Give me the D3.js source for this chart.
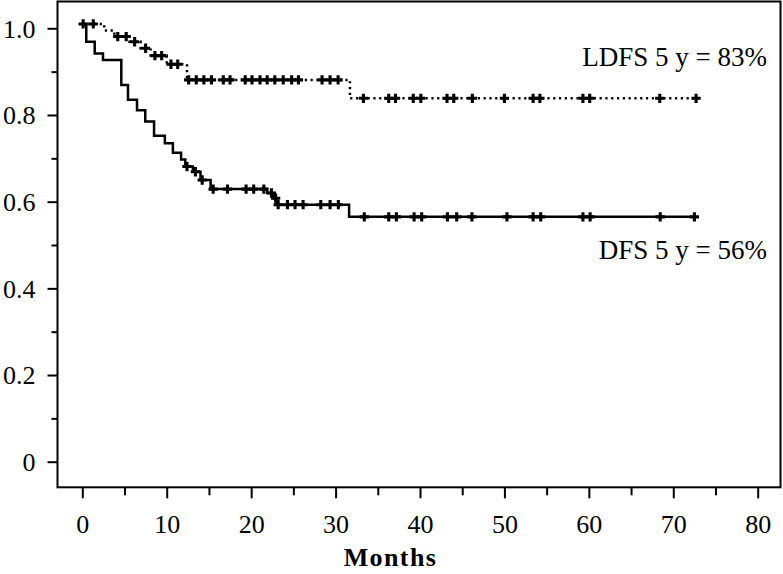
<!DOCTYPE html>
<html>
<head>
<meta charset="utf-8">
<script src="https://cdn.jsdelivr.net/npm/d3@7"></script>
<style>
  html, body { margin: 0; padding: 0; background: #fff; }
  svg { display: block; }
  text { font-family: "Liberation Serif", "Times New Roman", serif; fill: #000; }
</style>
</head>
<body>
<svg id="chart" width="783" height="574"></svg>
<script>
// ---- data ----
const xTicks = [0, 10, 20, 30, 40, 50, 60, 70, 80];
const xMinorTicks = [5, 15, 25, 35, 45, 55, 65, 75];
const yTicks = [0, 0.2, 0.4, 0.6, 0.8, 1.0];
const yTickLabels = ["0", "0.2", "0.4", "0.6", "0.8", "1.0"];
const yMinorTicks = [0.1, 0.3, 0.5, 0.7, 0.9];

// DFS (solid): step times and survival after each step
const dfsTimes = [0, 0.47, 1.47, 2.45, 4.62, 5.41, 6.48, 7.46, 8.5, 9.78, 10.73, 11.7, 12.2, 13.1, 14.0, 15.2, 21.9, 22.6, 23.0, 31.6];
const dfsSurv  = [1.01, 0.969, 0.942, 0.927, 0.869, 0.835, 0.811, 0.785, 0.752, 0.735, 0.713, 0.697, 0.681, 0.669, 0.650, 0.629, 0.620, 0.608, 0.593, 0.565];
const dfsEnd = 72.5;
const dfsCensor = [12.4, 13.4, 14.2, 15.5, 17.2, 19.4, 20.3, 21.5, 22.4, 22.9, 23.2, 24.3, 25.2, 26.15, 28.25, 29.35, 30.33,
                   33.4, 36.3, 37.2, 39.3, 40.2, 43.25, 44.35, 46.15, 50.3, 53.4, 54.3, 59.3, 60.15, 68.45, 72.5];

// LDFS (dotted)
const ldfsTimes = [0, 2.6, 3.8, 5.6, 6.9, 8.1, 10.0, 12.4, 31.7];
const ldfsSurv  = [1.01, 0.995, 0.981, 0.969, 0.954, 0.937, 0.917, 0.881, 0.8385];
const ldfsEnd = 72.7;
const ldfsCensor = [0.1, 1.3, 4.2, 5.2, 6.2, 7.5, 8.6, 9.4, 10.5, 11.3, 12.6, 13.5, 14.4, 15.3, 16.7, 17.5, 19.3, 20.1, 21.05,
                    21.9, 22.8, 23.8, 24.8, 25.6, 28.4, 29.35, 30.3, 33.3, 36.3, 37.1, 39.2, 40.1, 43.2, 44.0, 46.2, 50.0,
                    53.4, 54.2, 59.3, 60.1, 68.4, 72.7];

const labels = [
  { text: "LDFS 5 y = 83%", series: "ldfs" },
  { text: "DFS 5 y = 56%", series: "dfs" }
];
const xTitle = "Months";

// ---- layout ----
const svg = d3.select("#chart");
const box = { left: 57.5, top: 1.5, right: 780.5, bottom: 487.3 };
const x = d3.scaleLinear().domain([0, 80]).range([82.3, 757.7]);
const y = d3.scaleLinear().domain([0, 1]).range([461.7, 28.3]);

// frame
svg.append("rect")
  .attr("x", box.left).attr("y", box.top)
  .attr("width", box.right - box.left).attr("height", box.bottom - box.top)
  .attr("fill", "none").attr("stroke", "#000").attr("stroke-width", 2);

// y axis
const yAxisG = svg.append("g").attr("transform", `translate(${box.left},0)`)
  .call(d3.axisLeft(y).tickValues(yTicks).tickSize(10).tickPadding(12)
        .tickFormat((d, i) => yTickLabels[i]));
const yMinorG = svg.append("g").attr("transform", `translate(${box.left},0)`)
  .call(d3.axisLeft(y).tickValues(yMinorTicks).tickSize(6).tickFormat(""));

// x axis
const xAxisG = svg.append("g").attr("transform", `translate(0,${box.bottom})`)
  .call(d3.axisBottom(x).tickValues(xTicks).tickSize(11).tickFormat(d3.format("d")));
const xMinorG = svg.append("g").attr("transform", `translate(0,${box.bottom})`)
  .call(d3.axisBottom(x).tickValues(xMinorTicks).tickSize(8).tickFormat(""));

[yAxisG, yMinorG, xAxisG, xMinorG].forEach(g => {
  g.select(".domain").remove();
  g.selectAll(".tick line").attr("stroke", "#000").attr("stroke-width", 2);
  g.selectAll("text").attr("font-family", "Liberation Serif").attr("font-size", 26).attr("fill", "#000");
});
yAxisG.selectAll("text").attr("dy", "0.34em");
xAxisG.selectAll("text").attr("y", 45.4).attr("dy", 0);

// x title
svg.append("text")
  .attr("x", 390.5).attr("y", 566)
  .attr("text-anchor", "middle")
  .attr("font-size", 26).attr("font-weight", "bold")
  .attr("letter-spacing", 1.4)
  .text(xTitle);

// curves
function stepPoints(times, surv, end) {
  const pts = times.map((t, i) => [t, surv[i]]);
  pts.push([end, surv[surv.length - 1]]);
  return pts;
}
function survAt(times, surv, t) {
  let v = surv[0];
  for (let i = 0; i < times.length; i++) if (times[i] <= t) v = surv[i];
  return v;
}
const line = d3.line().x(d => x(d[0])).y(d => y(d[1])).curve(d3.curveStepAfter);

svg.append("path")
  .datum(stepPoints(ldfsTimes, ldfsSurv, ldfsEnd))
  .attr("d", line).attr("fill", "none").attr("stroke", "#000")
  .attr("stroke-width", 2.5).attr("stroke-dasharray", "2.2,3.6");

svg.append("path")
  .datum(stepPoints(dfsTimes, dfsSurv, dfsEnd))
  .attr("d", line).attr("fill", "none").attr("stroke", "#000")
  .attr("stroke-width", 2.5);

const cross = d3.symbol().type(d3.symbolCross).size(48);
svg.append("g").selectAll("path.c1").data(ldfsCensor).join("path")
  .attr("d", cross).attr("fill", "#000")
  .attr("transform", d => `translate(${x(d)},${y(survAt(ldfsTimes, ldfsSurv, d))})`);
svg.append("g").selectAll("path.c2").data(dfsCensor).join("path")
  .attr("d", cross).attr("fill", "#000")
  .attr("transform", d => `translate(${x(d)},${y(survAt(dfsTimes, dfsSurv, d))})`);

// annotations
const labelPos = { ldfs: 66, dfs: 258.5 };
svg.append("g").selectAll("text").data(labels).join("text")
  .attr("x", 767).attr("y", d => labelPos[d.series])
  .attr("text-anchor", "end").attr("font-size", 27)
  .text(d => d.text);
</script>
</body>
</html>
